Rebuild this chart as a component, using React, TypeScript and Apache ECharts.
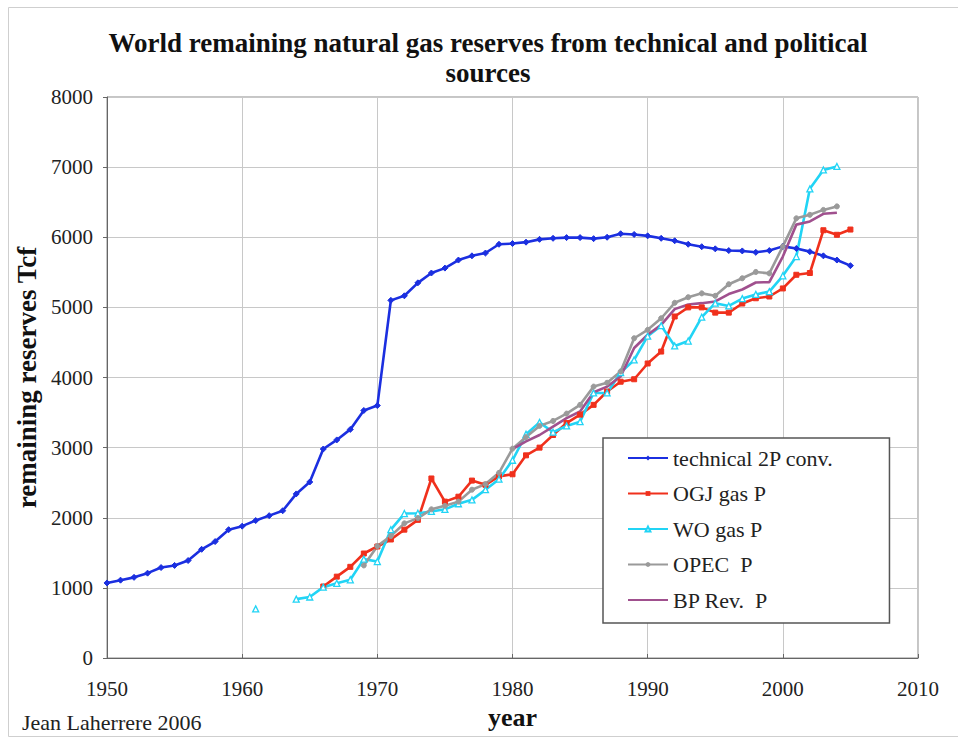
import React, { useEffect, useRef } from "react";
import * as echarts from "echarts";

const xTicks = [1950, 1960, 1970, 1980, 1990, 2000, 2010];
const yTicks = [0, 1000, 2000, 3000, 4000, 5000, 6000, 7000, 8000];

const techYears = [1950, 1951, 1952, 1953, 1954, 1955, 1956, 1957, 1958, 1959, 1960, 1961, 1962, 1963, 1964, 1965, 1966, 1967, 1968, 1969, 1970, 1971, 1972, 1973, 1974, 1975, 1976, 1977, 1978, 1979, 1980, 1981, 1982, 1983, 1984, 1985, 1986, 1987, 1988, 1989, 1990, 1991, 1992, 1993, 1994, 1995, 1996, 1997, 1998, 1999, 2000, 2001, 2002, 2003, 2004, 2005];
const techValues = [1070, 1110, 1150, 1210, 1290, 1320, 1390, 1550, 1660, 1830, 1880, 1960, 2030, 2100, 2340, 2510, 2980, 3110, 3260, 3530, 3600, 5100, 5165, 5350, 5490, 5560, 5675, 5735, 5775, 5900, 5910, 5930, 5970, 5985, 5995, 5995, 5980, 6000, 6050, 6040, 6020, 5985, 5950, 5900, 5865, 5835, 5810, 5805, 5785, 5810, 5870, 5840, 5795, 5735, 5675, 5595];

const ogjYears = [1966, 1967, 1968, 1969, 1970, 1971, 1972, 1973, 1974, 1975, 1976, 1977, 1978, 1979, 1980, 1981, 1982, 1983, 1984, 1985, 1986, 1987, 1988, 1989, 1990, 1991, 1992, 1993, 1994, 1995, 1996, 1997, 1998, 1999, 2000, 2001, 2002, 2003, 2004, 2005];
const ogjValues = [1020, 1160, 1300, 1490, 1590, 1690, 1830, 1970, 2560, 2230, 2300, 2530, 2470, 2590, 2620, 2890, 3000, 3180, 3350, 3470, 3610, 3800, 3940, 3975, 4200, 4370, 4870, 5000, 5000, 4925, 4925, 5055, 5130, 5155, 5270, 5465, 5490, 6100, 6035, 6110];

const woYears = [1961, 1962, 1963, 1964, 1965, 1966, 1967, 1968, 1969, 1970, 1971, 1972, 1973, 1974, 1975, 1976, 1977, 1978, 1979, 1980, 1981, 1982, 1983, 1984, 1985, 1986, 1987, 1988, 1989, 1990, 1991, 1992, 1993, 1994, 1995, 1996, 1997, 1998, 1999, 2000, 2001, 2002, 2003, 2004];
const woValues = [700, null, null, 840, 870, 1010, 1065, 1115, 1410, 1375, 1830, 2060, 2065, 2090, 2120, 2200, 2255, 2400, 2550, 2820, 3190, 3360, 3220, 3310, 3370, 3780, 3780, 4070, 4250, 4590, 4740, 4450, 4520, 4860, 5060, 5020, 5125, 5185, 5225, 5450, 5725, 6690, 6960, 7010];

const opecYears = [1969, 1970, 1971, 1972, 1973, 1974, 1975, 1976, 1977, 1978, 1979, 1980, 1981, 1982, 1983, 1984, 1985, 1986, 1987, 1988, 1989, 1990, 1991, 1992, 1993, 1994, 1995, 1996, 1997, 1998, 1999, 2000, 2001, 2002, 2003, 2004];
const opecValues = [1320, 1595, 1740, 1920, 1995, 2120, 2170, 2230, 2400, 2480, 2640, 2985, 3150, 3310, 3380, 3485, 3610, 3870, 3925, 4085, 4560, 4680, 4845, 5065, 5145, 5200, 5165, 5330, 5415, 5505, 5485, 5870, 6270, 6320, 6390, 6440];

const bpYears = [1980, 1981, 1982, 1983, 1984, 1985, 1986, 1987, 1988, 1989, 1990, 1991, 1992, 1993, 1994, 1995, 1996, 1997, 1998, 1999, 2000, 2001, 2002, 2003, 2004];
const bpValues = [2980, 3090, 3180, 3300, 3420, 3515, 3790, 3870, 4015, 4420, 4610, 4750, 4975, 5040, 5060, 5085, 5190, 5255, 5355, 5360, 5725, 6180, 6225, 6335, 6350];

const seriesNames = ["technical 2P conv.", "OGJ gas P", "WO gas P", "OPEC  P", "BP Rev.  P"];

const pairs = (xs: number[], ys: (number | null)[]) => xs.map((x, i) => [x, ys[i]]);

const SERIF = '"Liberation Serif"';

export default function App() {
  const ref = useRef<HTMLDivElement>(null);
  useEffect(() => {
    if (!ref.current) return;
    const chart = echarts.init(ref.current, null, { renderer: "svg" });
    const mk = (name: string, data: any[], color: string, symbol: string, symbolSize: number, extra: any = {}) => ({
      name,
      type: "line",
      data,
      showAllSymbol: true,
      connectNulls: false,
      symbol,
      symbolSize,
      lineStyle: { color, width: 2.6 },
      itemStyle: { color, borderColor: color },
      ...extra,
    });
    chart.setOption({
      animation: false,
      backgroundColor: "#fff",
      grid: { left: 107, right: 40, top: 97, bottom: 80, show: true, borderColor: "#8c8c8c", borderWidth: 1 },
      xAxis: {
        type: "value",
        min: 1950,
        max: 2010,
        interval: 10,
        name: "year",
        nameLocation: "middle",
        nameGap: 46,
        nameTextStyle: { fontFamily: SERIF, fontSize: 26, fontWeight: "bold", color: "#111" },
        axisLine: { show: true, lineStyle: { color: "#666" } },
        axisTick: { show: true, inside: true, length: 4, lineStyle: { color: "#666" } },
        axisLabel: { fontFamily: SERIF, fontSize: 21, color: "#222", margin: 20, formatter: (v: number) => (xTicks.includes(v) ? String(v) : "") },
        splitLine: { show: true, lineStyle: { color: "#c8c8c8", width: 1 } },
      },
      yAxis: {
        type: "value",
        min: 0,
        max: 8000,
        interval: 1000,
        name: "remaining reserves Tcf",
        nameLocation: "middle",
        nameRotate: 90,
        nameGap: 65,
        nameTextStyle: { fontFamily: SERIF, fontSize: 27, fontWeight: "bold", color: "#111" },
        axisLine: { show: true, lineStyle: { color: "#666" } },
        axisTick: { show: true, length: 4, lineStyle: { color: "#666" } },
        axisLabel: { fontFamily: SERIF, fontSize: 21, color: "#222", margin: 14, formatter: (v: number) => (yTicks.includes(v) ? String(v) : "") },
        splitLine: { show: true, lineStyle: { color: "#c8c8c8", width: 1 } },
      },
      legend: {
        orient: "vertical",
        left: 603,
        top: 438,
        padding: [9, 56, 12, 24],
        itemWidth: 40,
        itemHeight: 6,
        itemGap: 13.5,
        backgroundColor: "#fff",
        borderColor: "#555",
        borderWidth: 1.5,
        borderRadius: 0,
        textStyle: { fontFamily: SERIF, fontSize: 22, color: "#222" },
        data: [
          { name: seriesNames[0] },
          { name: seriesNames[1] },
          { name: seriesNames[2] },
          { name: seriesNames[3] },
          { name: seriesNames[4], itemStyle: { opacity: 0 } },
        ],
      },
      graphic: [
        {
          type: "rect",
          shape: { x: 8.5, y: 7.5, width: 960, height: 729 },
          style: { fill: "none", stroke: "#cfcfcf", lineWidth: 1 },
          silent: true,
        },
        {
          type: "text",
          x: 488,
          y: 28,
          style: {
            text: "World remaining natural gas reserves from technical and political\nsources",
            font: 'bold 27px "Liberation Serif"',
            fill: "#111",
            align: "center",
            verticalAlign: "top",
            lineHeight: 30,
          },
        },
        {
          type: "text",
          x: 22,
          y: 722,
          style: {
            text: "Jean Laherrere 2006",
            font: '22px "Liberation Serif"',
            fill: "#222",
            align: "left",
            verticalAlign: "middle",
          },
        },
      ],
      series: [
        mk(seriesNames[0], pairs(techYears, techValues), "#1b2fe0", "diamond", 6),
        mk(seriesNames[1], pairs(ogjYears, ogjValues), "#f0301c", "rect", 5),
        mk(seriesNames[2], pairs(woYears, woValues), "#21d4f5", "triangle", 6, { itemStyle: { color: "#fff", borderColor: "#21d4f5", borderWidth: 1.3 } }),
        mk(seriesNames[3], pairs(opecYears, opecValues), "#9a9a9a", "circle", 5),
        mk(seriesNames[4], pairs(bpYears, bpValues), "#a0508e", "none", 0),
      ],
    });
    return () => chart.dispose();
  }, []);
  return <div ref={ref} style={{ position: "absolute", left: 0, top: 0, width: 958, height: 738 }} />;
}
